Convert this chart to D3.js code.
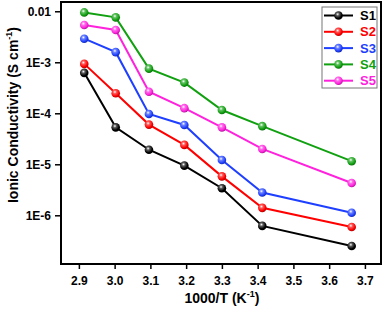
<!DOCTYPE html>
<html>
<head>
<meta charset="utf-8">
<script src="https://cdn.jsdelivr.net/npm/d3@7"></script>
<style>
  body { margin: 0; background: #fff; }
  svg { display: block; font-family: "Liberation Sans", Arial, sans-serif; }
</style>
</head>
<body>
<div id="chart"></div>
<script>
const invT = [2.915, 3.003, 3.096, 3.195, 3.300, 3.413, 3.663]
const seriesNames = ['S1', 'S2', 'S3', 'S4', 'S5']
const seriesColors = ['#000000', '#ff0000', '#1f3fff', '#10a010', '#ff22dd']
const s1 = [6.2e-4, 5.3e-5, 1.93e-5, 9.4e-6, 3.4e-6, 6.2e-7, 2.5e-7]
const s2 = [9.3e-4, 2.47e-4, 6.0e-5, 2.4e-5, 5.8e-6, 1.4e-6, 5.9e-7]
const s3 = [2.9e-3, 1.58e-3, 9.7e-5, 5.9e-5, 1.21e-5, 2.8e-6, 1.12e-6]
const s4 = [9.5e-3, 7.6e-3, 7.5e-4, 4.0e-4, 1.16e-4, 5.6e-5, 1.15e-5]
const s5 = [5.4e-3, 4.3e-3, 2.65e-4, 1.26e-4, 5.3e-5, 2.0e-5, 4.3e-6]
const xTicks = [2.9, 3.0, 3.1, 3.2, 3.3, 3.4, 3.5, 3.6, 3.7]
const yTicks = [1e-2, 1e-3, 1e-4, 1e-5, 1e-6]
const yTickLabels = ['0.01', '1E-3', '1E-4', '1E-5', '1E-6']

const allSeries = [s1, s2, s3, s4, s5]
const width = 386
const height = 314
const margin = { top: 2, right: 5, bottom: 50, left: 61 }
const plotW = width - margin.left - margin.right
const plotH = height - margin.top - margin.bottom

const svg = d3.select('#chart').append('svg').attr('width', width).attr('height', height)

// sphere-like markers
const defs = svg.append('defs')
seriesColors.forEach((c, i) => {
  const g = defs.append('radialGradient').attr('id', 'ball' + i)
    .attr('cx', '40%').attr('cy', '35%').attr('r', '65%')
  g.append('stop').attr('offset', '0%').attr('stop-color', '#ffffff')
  g.append('stop').attr('offset', '30%').attr('stop-color', d3.interpolateRgb(c, '#fff')(0.35))
  g.append('stop').attr('offset', '75%').attr('stop-color', c)
  g.append('stop').attr('offset', '100%').attr('stop-color', d3.interpolateRgb(c, '#000')(0.3))
})

const g = svg.append('g').attr('transform', `translate(${margin.left},${margin.top})`)

const x = d3.scaleLinear().domain([2.85, 3.745]).range([0, plotW])
const y = d3.scaleLog().domain([Math.pow(10, -6.955), Math.pow(10, -1.818)]).range([plotH, 0])

const xAxis = g.append('g').attr('transform', `translate(0,${plotH})`)
  .call(d3.axisBottom(x).tickValues(xTicks).tickFormat(d3.format('.1f')).tickSize(5).tickSizeOuter(0))
const yAxis = g.append('g')
  .call(d3.axisLeft(y).tickValues(yTicks).tickFormat((d, i) => yTickLabels[i]).tickSize(6).tickSizeOuter(0))

;[xAxis, yAxis].forEach(a => {
  a.select('.domain').remove()
  a.selectAll('.tick line').attr('stroke', '#000').attr('stroke-width', 1.5)
  a.selectAll('.tick text').attr('font-size', 12).attr('font-weight', 'bold')
    .attr('font-family', '"Liberation Sans", Arial, sans-serif').attr('fill', '#000')
})
xAxis.selectAll('.tick text').attr('dy', '1.05em')
yAxis.selectAll('.tick text').attr('x', -10)

const line = d3.line().x((d, i) => x(invT[i])).y(d => y(d))

allSeries.forEach((s, k) => {
  g.append('path').datum(s).attr('d', line)
    .attr('fill', 'none').attr('stroke', seriesColors[k]).attr('stroke-width', 2)
  g.selectAll('.pt' + k).data(s).enter().append('circle')
    .attr('cx', (d, i) => x(invT[i])).attr('cy', d => y(d)).attr('r', 4.3)
    .attr('fill', `url(#ball${k})`)
})

g.append('rect').attr('width', plotW).attr('height', plotH)
  .attr('fill', 'none').attr('stroke', '#000').attr('stroke-width', 2)

// legend
const lg = svg.append('g').attr('transform', 'translate(322,7)')
lg.append('rect').attr('width', 55).attr('height', 81)
  .attr('fill', '#fff').attr('stroke', '#777').attr('stroke-width', 1)
seriesNames.forEach((n, k) => {
  const yy = 8.5 + k * 16.3
  lg.append('line').attr('x1', 2).attr('x2', 31).attr('y1', yy).attr('y2', yy)
    .attr('stroke', seriesColors[k]).attr('stroke-width', 2)
  lg.append('circle').attr('cx', 16.5).attr('cy', yy).attr('r', 4.3).attr('fill', `url(#ball${k})`)
  lg.append('text').attr('x', 38).attr('y', yy + 4.5).text(n)
    .attr('font-size', 13).attr('font-weight', 'bold').attr('fill', seriesColors[k])
})

// axis titles
const xt = svg.append('text').attr('x', margin.left + x(3.3)).attr('y', 303)
  .attr('text-anchor', 'middle').attr('font-size', 14).attr('font-weight', 'bold')
xt.append('tspan').text('1000/T (K')
xt.append('tspan').text('-1').attr('font-size', 9).attr('dy', -6)
xt.append('tspan').text(')').attr('dy', 6)

const yt = svg.append('text').attr('transform', `translate(18,${margin.top + plotH / 2 - 18}) rotate(-90)`)
  .attr('text-anchor', 'middle').attr('font-size', 14).attr('font-weight', 'bold')
yt.append('tspan').text('Ionic Conductivity (S cm')
yt.append('tspan').text('-1').attr('font-size', 9).attr('dy', -6)
yt.append('tspan').text(')').attr('dy', 6)
</script>
</body>
</html>
